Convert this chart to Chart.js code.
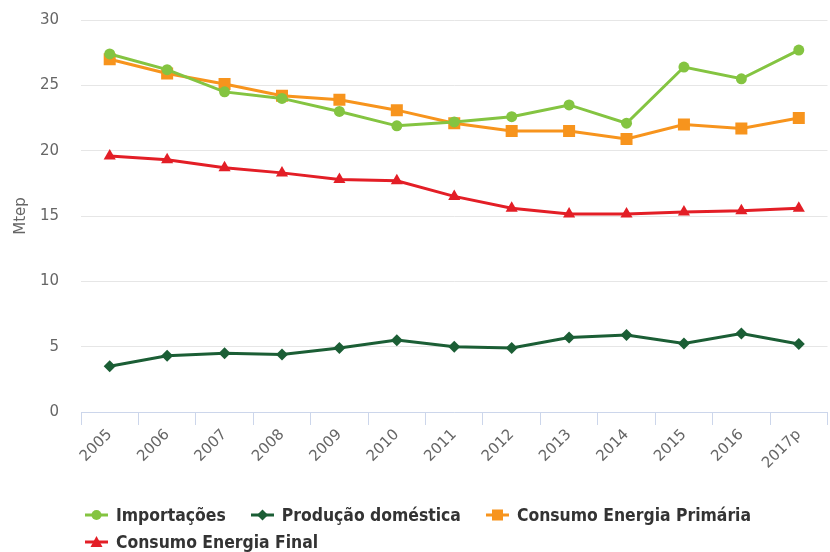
<!DOCTYPE html>
<html>
<head>
<meta charset="utf-8" />
<script src="https://cdn.jsdelivr.net/npm/chart.js@4.4.0/dist/chart.umd.min.js"></script>
<style>
  body { margin:0; background:#fff; width:830px; height:552px; overflow:hidden; position:relative; font-family:"DejaVu Sans",sans-serif; }
  #wrap { position:absolute; left:0; top:0; width:836px; height:552px; }
  #legend { position:absolute; left:85px; top:501px; width:720px; display:flex; flex-wrap:wrap;
            font-family:"DejaVu Sans Condensed","DejaVu Sans",sans-serif; font-stretch:condensed; font-weight:bold; font-size:17.4px; color:#333; }
  .item { display:flex; align-items:center; height:27px; margin-right:25px; white-space:nowrap; }
  .item svg { margin-right:8px; }
</style>
</head>
<body>
<div id="wrap"><canvas id="c"></canvas></div>
<div id="legend"></div>

<script>
const years = ["2005","2006","2007","2008","2009","2010","2011","2012","2013","2014","2015","2016","2017p"];
const importacoes = [27.4, 26.2, 24.5, 24.0, 23.0, 21.9, 22.2, 22.6, 23.5, 22.1, 26.4, 25.5, 27.7];
const producao    = [3.5, 4.3, 4.5, 4.4, 4.9, 5.5, 5.0, 4.9, 5.7, 5.9, 5.25, 6.0, 5.2];
const consPrim    = [27.0, 25.9, 25.1, 24.2, 23.9, 23.1, 22.1, 21.5, 21.5, 20.9, 22.0, 21.7, 22.5];
const consFinal   = [19.6, 19.3, 18.7, 18.3, 17.8, 17.7, 16.5, 15.6, 15.15, 15.15, 15.3, 15.4, 15.6];

const GREEN = "#84c441", DKGREEN = "#1b5e35", ORANGE = "#f7941d", RED = "#e31e26";

const series = [
  {label:"Importações", data:importacoes, color:GREEN, style:"circle", r:5.5},
  {label:"Produção doméstica", data:producao, color:DKGREEN, style:"rectRot", r:6},
  {label:"Consumo Energia Primária", data:consPrim, color:ORANGE, style:"rect", r:8.5},
  {label:"Consumo Energia Final", data:consFinal, color:RED, style:"triangle", r:7}
];

const chart = new Chart(document.getElementById("c"), {
  type: "line",
  data: {
    labels: years,
    datasets: series.map(s => ({
      label: s.label, data: s.data,
      borderColor: s.color, backgroundColor: s.color,
      borderWidth: 3, pointStyle: s.style, pointRadius: s.r,
      pointBorderWidth: 0, tension: 0
    }))
  },
  options: {
    responsive: true, maintainAspectRatio: false, animation: false,
    layout: { padding: { top: 20, left: 0, right: 0, bottom: 0 } },
    plugins: { legend: { display: false }, tooltip: { enabled: false } },
    scales: {
      x: {
        offset: true,
        grid: { offset: true, drawOnChartArea: false, color: "#ccd6eb", tickLength: 13 },
        border: { color: "#ccd6eb" },
        ticks: { color: "#666", font: { family: "DejaVu Sans", size: 15 }, minRotation: 45, maxRotation: 45, padding: 1, autoSkip: false },
        afterFit: s => { s.height = 140; s.paddingLeft = 0; s.paddingRight = 0; }
      },
      y: {
        min: 0, max: 30,
        ticks: { stepSize: 5, color: "#666", font: { family: "DejaVu Sans", size: 15 }, padding: 22 },
        grid: { color: "#e6e6e6", drawTicks: false },
        border: { display: false },
        title: { display: true, text: "Mtep", color: "#666", font: { family: "DejaVu Sans", size: 15 }, padding: { top: 12, bottom: 0 } },
        afterFit: s => { s.width = 81; s.paddingTop = 0; s.paddingBottom = 0; }
      }
    }
  }
});

// html legend: line + marker icon, then the name
function icon(s) {
  let m;
  if (s.style === "circle") m = `<circle cx="11.5" cy="8" r="5" fill="${s.color}"/>`;
  else if (s.style === "rectRot") m = `<polygon points="11.5,2.5 17,8 11.5,13.5 6,8" fill="${s.color}"/>`;
  else if (s.style === "rect") m = `<rect x="6" y="2.5" width="11" height="11" fill="${s.color}"/>`;
  else m = `<polygon points="11.5,2 17.5,13 5.5,13" fill="${s.color}"/>`;
  return `<svg width="23" height="16"><line x1="0" y1="8" x2="23" y2="8" stroke="${s.color}" stroke-width="3"/>${m}</svg>`;
}
document.getElementById("legend").innerHTML =
  series.map(s => `<div class="item">${icon(s)}<span>${s.label}</span></div>`).join("");
</script>
</body>
</html>
